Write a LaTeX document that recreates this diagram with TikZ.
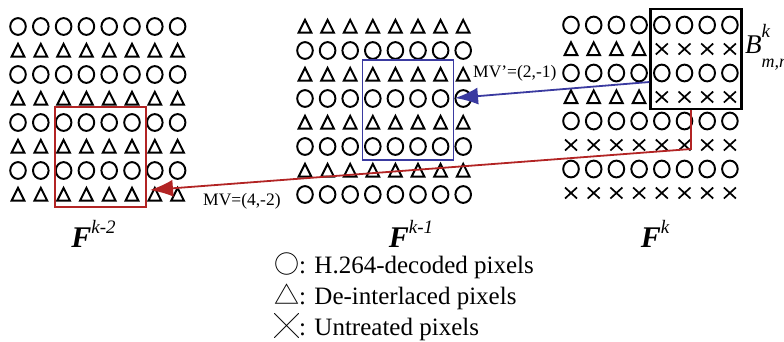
\documentclass[tikz,border=0pt]{standalone}
\usepackage{fontspec}
\setmainfont{Liberation Serif}
\newfontfamily\cjkfont{Noto Sans CJK SC}
\usetikzlibrary{arrows.meta}
\definecolor{mvred}{RGB}{178,36,36}
\definecolor{mvblue}{RGB}{58,58,160}
\tikzset{
  sym/.style={line width=1.95pt, draw=black},
  pcirc/.pic={\draw[sym] (0,0) ellipse (7.8 and 8.4);},
  ptri/.pic={\draw[sym, line join=miter] (-6.4,6.2) -- (0,-6.6) -- (6.4,6.2) -- cycle;},
  pcross/.pic={\draw[sym, line width=1.7pt] (-6,-5.5) -- (6,5.5) (-6,5.5) -- (6,-5.5);},
  blockbox/.style={rectangle, inner sep=0pt, minimum width=91pt, minimum height=100pt, fill=none},
  redarrow/.style={draw=mvred, line width=1.8pt, -{Latex[length=23pt,width=17pt]}},
  bluearrow/.style={draw=mvblue, line width=1.8pt, -{Latex[length=23pt,width=17pt]}},
  framelabel/.style={anchor=base, inner sep=0pt, font=\fontsize{30}{34}\selectfont},
  mvlabel/.style={anchor=base west, inner sep=0pt, font=\fontsize{17.5}{20}\selectfont},
  legendline/.style={anchor=base west, inner sep=0pt, font=\fontsize{25}{30}\selectfont},
}
\newcommand{\supsc}[1]{\raisebox{14pt}{\fontsize{19}{20}\selectfont\itshape #1}}
\begin{document}
\begin{tikzpicture}[x=1pt, y=-1pt]
\useasboundingbox (0,0) rectangle (784,341);

% Left grid F^{k-2}
\foreach \j in {0,...,7}{
  \foreach \i in {0,...,7}{
    \pgfmathsetmacro\xa{18+22.8*\i}
    \pgfmathsetmacro\ya{26.5+24*\j}
    \ifodd\j\relax \pic at (\xa,\ya) {ptri}; \else \pic at (\xa,\ya) {pcirc}; \fi
  }
}
% Middle grid F^{k-1}
\foreach \j in {0,...,7}{
  \foreach \i in {0,...,7}{
    \pgfmathsetmacro\xa{305+22.6*\i}
    \pgfmathsetmacro\ya{26.5+24*\j}
    \ifodd\j\relax \pic at (\xa,\ya) {pcirc}; \else \pic at (\xa,\ya) {ptri}; \fi
  }
}
% Right grid F^{k}
\foreach \j in {0,...,7}{
  \foreach \i in {0,...,7}{
    \pgfmathsetmacro\xa{571+22.7*\i}
    \pgfmathsetmacro\ya{25+24*\j}
    \ifodd\j\relax
      \ifnum\j<5\relax
        \ifnum\i<4\relax \pic at (\xa,\ya) {ptri}; \else \pic at (\xa,\ya) {pcross}; \fi
      \else
        \pic at (\xa,\ya) {pcross};
      \fi
    \else
      \pic at (\xa,\ya) {pcirc};
    \fi
  }
}

% Blocks
\node[blockbox, draw=mvred, line width=1.8pt] (redbox) at (100.5,157) {};
\node[blockbox, draw=mvblue, line width=1.8pt] (bluebox) at (408,110) {};
\node[blockbox, draw=black, line width=2.2pt] (blackbox) at (696,59) {};

% Motion vectors
\coordinate (rturn) at (691,149);
\coordinate (rtip) at (150,190);
\coordinate (bstart) at (651,82);
\coordinate (btip) at (455,98);
\draw[redarrow] (blackbox.south -| rturn) -- (rturn) -- (rtip);
\draw[bluearrow] (blackbox.west |- bstart) -- (btip);

\node[mvlabel] (mv) at (203,205) {MV=(4,-2)};
\node[mvlabel] (mvp) at (473,77.5) {MV’=(2,-1)};

% Block label
\node[anchor=base west, inner sep=0pt, font=\fontsize{27}{30}\selectfont] (blabel) at (745,53)
  {\textit{B}\rlap{\raisebox{16pt}{\fontsize{19}{20}\selectfont\itshape k}}\raisebox{-14pt}{\fontsize{18}{20}\selectfont\itshape m,n}};

% Frame labels
\node[framelabel] (f2) at (93.5,247) {\textbf{\textit{F}}\supsc{k-2}};
\node[framelabel] (f1) at (411,247) {\textbf{\textit{F}}\supsc{k-1}};
\node[framelabel] (f0) at (655,247) {\textbf{\textit{F}}\supsc{k}};

% Legend
\node[legendline] (lg1) at (274,273) {{\cjkfont ○}: H.264-decoded pixels};
\node[legendline] (lg2) at (274,304) {{\cjkfont △}: De-interlaced pixels};
\node[legendline] (lg3) at (274,335) {{\cjkfont ╳}: Untreated pixels};
\end{tikzpicture}
\end{document}
